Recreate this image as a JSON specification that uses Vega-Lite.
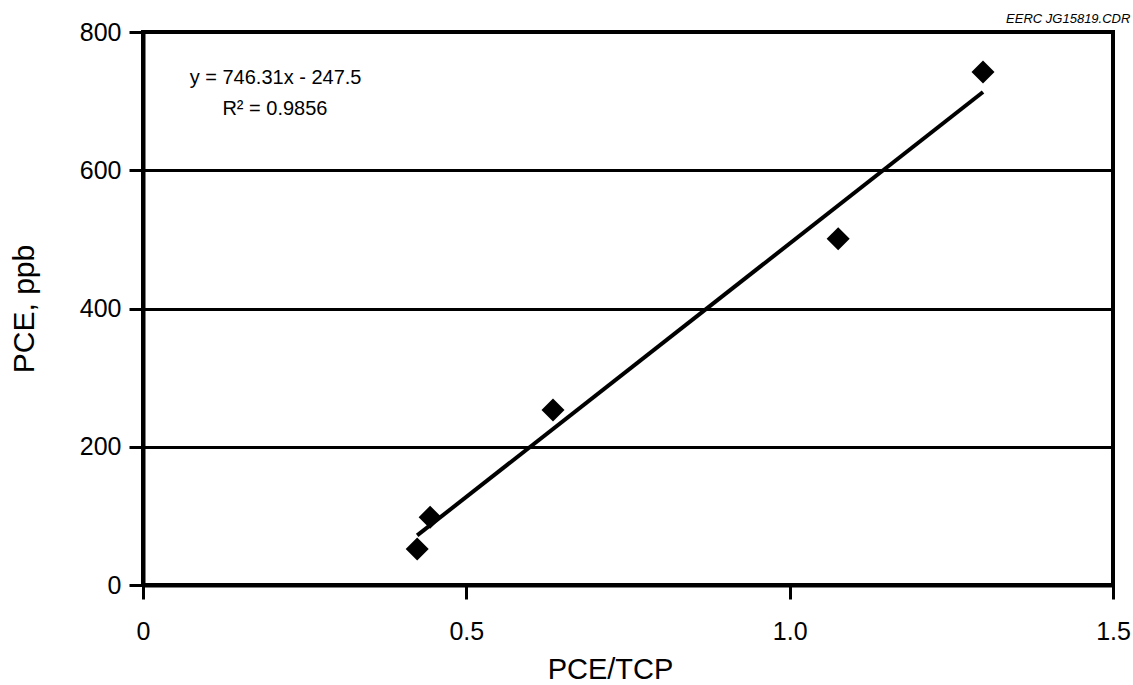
{
  "$schema": "https://vega.github.io/schema/vega-lite/v6.json",
  "width": 970,
  "height": 553,
  "autosize": {"type": "none"},
  "padding": {"left": 143, "top": 32, "right": 20, "bottom": 100},
  "config": {
    "font": "Liberation Sans",
    "view": {"stroke": "black", "strokeWidth": 4},
    "axis": {
      "domainColor": "black",
      "domainWidth": 4,
      "tickColor": "black",
      "tickWidth": 3,
      "labelColor": "black",
      "titleColor": "black",
      "labelFont": "Liberation Sans",
      "titleFont": "Liberation Sans",
      "titleFontWeight": "normal"
    }
  },
  "title": {
    "text": "EERC JG15819.CDR",
    "anchor": "end",
    "fontStyle": "italic",
    "fontWeight": "normal",
    "fontSize": 13,
    "font": "Liberation Sans",
    "color": "black",
    "offset": -6
  },
  "datasets": {
    "points": [
      {"ratio": 0.424, "PCE": 52},
      {"ratio": 0.444, "PCE": 98},
      {"ratio": 0.634, "PCE": 253},
      {"ratio": 1.075, "PCE": 501},
      {"ratio": 1.299, "PCE": 742}
    ],
    "notes": [
      {"ratio": 0.205, "PCE": 733, "label": "y = 746.31x - 247.5"},
      {"ratio": 0.204, "PCE": 689, "label": "R² = 0.9856"}
    ]
  },
  "layer": [
    {
      "data": {"name": "points"},
      "transform": [{"regression": "PCE", "on": "ratio"}],
      "mark": {"type": "line", "color": "black", "strokeWidth": 4},
      "encoding": {
        "x": {
          "field": "ratio",
          "type": "quantitative",
          "scale": {"domain": [0, 1.5], "nice": false},
          "axis": {
            "title": "PCE/TCP",
            "values": [0, 0.5, 1.0, 1.5],
            "labelExpr": "datum.value == 0 ? '0' : format(datum.value, '.1f')",
            "labelFlush": false,
            "grid": false,
            "tickSize": 14,
            "labelFontSize": 25,
            "labelPadding": 20,
            "titleFontSize": 29,
            "titlePadding": 11,
            "titleX": 467
          }
        },
        "y": {
          "field": "PCE",
          "type": "quantitative",
          "scale": {"domain": [0, 800], "nice": false},
          "axis": {
            "title": "PCE, ppb",
            "values": [0, 200, 400, 600, 800],
            "grid": true,
            "gridColor": "black",
            "gridWidth": 3,
            "gridOpacity": 1,
            "tickSize": 14,
            "labelFontSize": 25,
            "labelPadding": 8,
            "titleFontSize": 30,
            "titlePadding": 40
          }
        }
      }
    },
    {
      "data": {"name": "points"},
      "mark": {"type": "point", "shape": "diamond", "filled": true, "color": "black", "size": 530, "opacity": 1},
      "encoding": {
        "x": {"field": "ratio", "type": "quantitative"},
        "y": {"field": "PCE", "type": "quantitative"}
      }
    },
    {
      "data": {"name": "notes"},
      "mark": {"type": "text", "fontSize": 20, "color": "black", "align": "center", "baseline": "middle", "font": "Liberation Sans"},
      "encoding": {
        "x": {"field": "ratio", "type": "quantitative"},
        "y": {"field": "PCE", "type": "quantitative"},
        "text": {"field": "label"}
      }
    }
  ]
}
